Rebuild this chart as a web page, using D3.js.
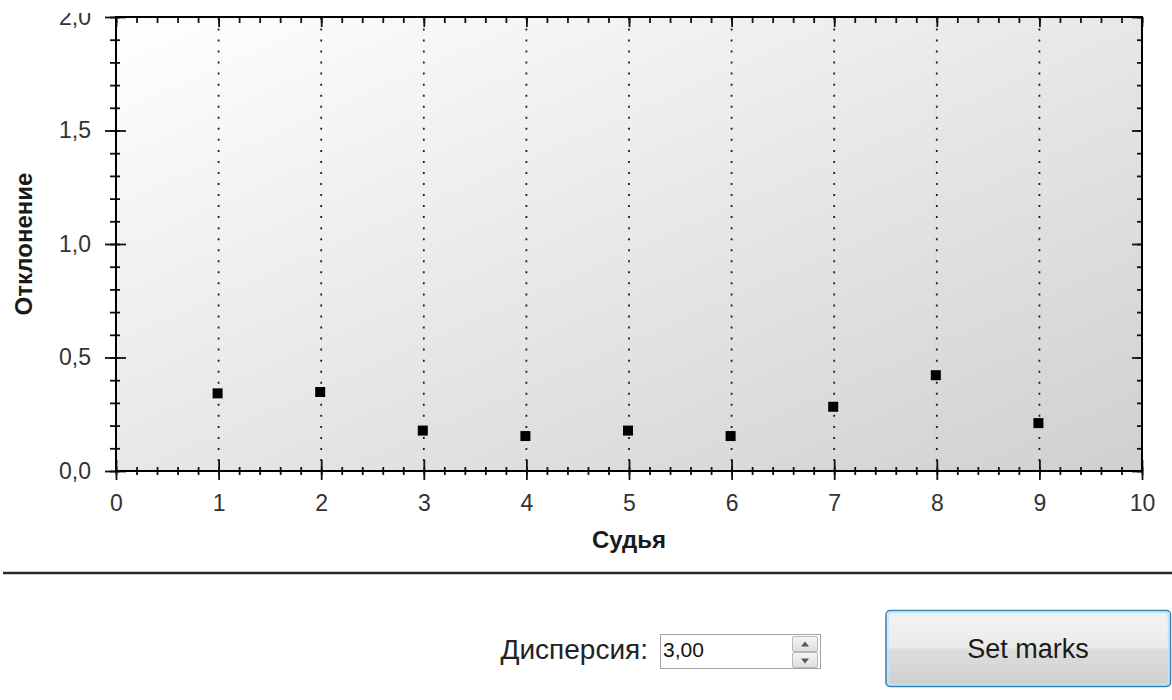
<!DOCTYPE html>
<html>
<head>
<meta charset="utf-8">
<script src="https://cdn.jsdelivr.net/npm/d3@7"></script>
<style>
  body { margin: 0; background: #fff; }
  svg { display: block; font-family: "Liberation Sans", Arial, sans-serif; }
</style>
</head>
<body>
<svg id="chart" width="1172" height="700"></svg>
<script>
// ---- data ----
const judges = [1, 2, 3, 4, 5, 6, 7, 8, 9];
const deviation = [0.342, 0.348, 0.178, 0.154, 0.178, 0.154, 0.283, 0.422, 0.211];
const xTickValues = [0, 1, 2, 3, 4, 5, 6, 7, 8, 9, 10];
const yTickValues = [0, 0.5, 1.0, 1.5, 2.0];
const xTitle = "Судья";
const yTitle = "Отклонение";
const dispersionLabel = "Дисперсия:";
const dispersionValue = "3,00";
const buttonLabel = "Set marks";

// ---- layout ----
const svg = d3.select("#chart");
const L = 116, R = 1142, T = 17, B = 471;
const x = d3.scaleLinear().domain([0, 10]).range([L, R]);
const y = d3.scaleLinear().domain([0, 2]).range([B, T]);
const fmt = d => d3.format(".1f")(d).replace(".", ",");

const defs = svg.append("defs");
const bg = defs.append("linearGradient").attr("id", "plotBg")
  .attr("x1", 0).attr("y1", 0).attr("x2", 1).attr("y2", 1);
bg.append("stop").attr("offset", "0%").attr("stop-color", "#ffffff");
bg.append("stop").attr("offset", "100%").attr("stop-color", "#d0d0d0");

const clip = defs.append("clipPath").attr("id", "labelClip");
clip.append("rect").attr("x", -200).attr("y", 13).attr("width", 400).attr("height", 700);

// plot background
svg.append("rect").attr("x", L).attr("y", T).attr("width", R - L).attr("height", B - T)
  .attr("fill", "url(#plotBg)");

// dotted vertical gridlines
svg.append("g").selectAll("line").data(judges).join("line")
  .attr("x1", d => x(d)).attr("x2", d => x(d))
  .attr("y1", y(0)).attr("y2", y(2))
  .attr("stroke", "#1e1e1e").attr("stroke-width", 1.8)
  .attr("stroke-dasharray", "2 9.04").attr("stroke-dashoffset", 1.04);

// minor ticks
const yMinor = d3.range(0, 2.0001, 0.1).map(v => +v.toFixed(1));
const xMinor = d3.range(0, 10.0001, 0.2).map(v => +v.toFixed(1));

function styleTicks(g) {
  g.select(".domain").remove();
  g.selectAll(".tick line").attr("stroke", "#111").attr("stroke-width", 1.8);
}

// left axis
const gLeftMinor = svg.append("g").attr("transform", `translate(${L},0)`)
  .call(d3.axisLeft(y).tickValues(yMinor).tickSize(6).tickFormat(""));
styleTicks(gLeftMinor);
gLeftMinor.selectAll(".tick line").attr("x1", 4);

const gLeft = svg.append("g").attr("transform", `translate(${L},0)`)
  .attr("clip-path", "url(#labelClip)")
  .call(d3.axisLeft(y).tickValues(yTickValues).tickSize(11).tickPadding(14).tickFormat(fmt));
styleTicks(gLeft);
gLeft.selectAll(".tick line").attr("x1", 10);
gLeft.selectAll(".tick text").attr("font-size", 23).attr("fill", "#333")
  .attr("font-family", "'Liberation Sans', Arial, sans-serif");

// right axis
const gRightMinor = svg.append("g").attr("transform", `translate(${R},0)`)
  .call(d3.axisRight(y).tickValues(yMinor).tickSize(-5).tickFormat(""));
styleTicks(gRightMinor);
const gRight = svg.append("g").attr("transform", `translate(${R},0)`)
  .call(d3.axisRight(y).tickValues(yTickValues).tickSize(-10).tickFormat(""));
styleTicks(gRight);

// bottom axis
const gBotMinor = svg.append("g").attr("transform", `translate(0,${B})`)
  .call(d3.axisBottom(x).tickValues(xMinor).tickSize(4).tickFormat(""));
styleTicks(gBotMinor);
gBotMinor.selectAll(".tick line").attr("y1", -4);

const gBot = svg.append("g").attr("transform", `translate(0,${B})`)
  .call(d3.axisBottom(x).tickValues(xTickValues).tickSize(9).tickPadding(15).tickFormat(d3.format("d")));
styleTicks(gBot);
gBot.selectAll(".tick line").attr("y1", -11);
gBot.selectAll(".tick text").attr("font-size", 23).attr("fill", "#333")
  .attr("font-family", "'Liberation Sans', Arial, sans-serif");

// top axis
const gTopMinor = svg.append("g").attr("transform", `translate(0,${T})`)
  .call(d3.axisTop(x).tickValues(xMinor).tickSize(-6).tickFormat(""));
styleTicks(gTopMinor);
const gTop = svg.append("g").attr("transform", `translate(0,${T})`)
  .call(d3.axisTop(x).tickValues(xTickValues).tickSize(-10).tickFormat(""));
styleTicks(gTop);

// frame
svg.append("rect").attr("x", L).attr("y", T).attr("width", R - L).attr("height", B - T)
  .attr("fill", "none").attr("stroke", "#000").attr("stroke-width", 2);

// points
svg.append("g").selectAll("rect").data(judges).join("rect")
  .attr("x", (d, i) => x(d) - 6).attr("y", (d, i) => y(deviation[i]) - 5)
  .attr("width", 10).attr("height", 10).attr("fill", "#000");

// titles
svg.append("text").attr("x", (L + R) / 2).attr("y", 548)
  .attr("text-anchor", "middle").attr("font-weight", "bold").attr("font-size", 24)
  .attr("fill", "#1a1a1a").text(xTitle);
svg.append("text").attr("transform", "translate(32,244) rotate(-90)")
  .attr("text-anchor", "middle").attr("font-weight", "bold").attr("font-size", 24)
  .attr("fill", "#1a1a1a").text(yTitle);

// separator
svg.append("line").attr("x1", 3).attr("x2", 1172).attr("y1", 573).attr("y2", 573)
  .attr("stroke", "#2a2a2a").attr("stroke-width", 2.5);

// control: label
svg.append("text").attr("x", 648).attr("y", 659).attr("text-anchor", "end")
  .attr("font-size", 28).attr("fill", "#222").text(dispersionLabel);

// numeric input
svg.append("rect").attr("x", 660.5).attr("y", 634.5).attr("width", 160).attr("height", 34)
  .attr("fill", "#fff").attr("stroke", "#a3a3a3").attr("stroke-width", 1);
svg.append("text").attr("x", 663).attr("y", 657).attr("font-size", 21)
  .attr("fill", "#111").text(dispersionValue);
const spin = defs.append("linearGradient").attr("id", "spinBg").attr("x1", 0).attr("y1", 0).attr("x2", 0).attr("y2", 1);
spin.append("stop").attr("offset", "0%").attr("stop-color", "#f6f6f6");
spin.append("stop").attr("offset", "100%").attr("stop-color", "#dedede");
[[636, 15], [652, 15]].forEach(([yy, hh], k) => {
  svg.append("rect").attr("x", 792.5).attr("y", yy + 0.5).attr("width", 25).attr("height", hh)
    .attr("rx", 1.5).attr("fill", "url(#spinBg)").attr("stroke", "#b8b8b8");
  const cx = 805, cy = yy + hh / 2 + 1;
  const pts = k === 0
    ? [[cx - 4, cy + 2], [cx + 4, cy + 2], [cx, cy - 3]]
    : [[cx - 4, cy - 2], [cx + 4, cy - 2], [cx, cy + 3]];
  svg.append("polygon").attr("points", pts.map(p => p.join(",")).join(" ")).attr("fill", "#4a5a6a");
});

// button
const btn = defs.append("linearGradient").attr("id", "btnBg").attr("x1", 0).attr("y1", 0).attr("x2", 0).attr("y2", 1);
btn.append("stop").attr("offset", "0%").attr("stop-color", "#f3f3f3");
btn.append("stop").attr("offset", "48%").attr("stop-color", "#ebebeb");
btn.append("stop").attr("offset", "52%").attr("stop-color", "#dddddd");
btn.append("stop").attr("offset", "100%").attr("stop-color", "#cfcfcf");
svg.append("rect").attr("x", 886).attr("y", 610.5).attr("width", 284.5).attr("height", 76)
  .attr("rx", 4).attr("fill", "url(#btnBg)").attr("stroke", "#3c7fb1").attr("stroke-width", 1.5);
svg.append("rect").attr("x", 888).attr("y", 612.5).attr("width", 280.5).attr("height", 72)
  .attr("rx", 3).attr("fill", "none").attr("stroke", "#bfe6f7").attr("stroke-width", 1.5);
svg.append("text").attr("x", 1028).attr("y", 658).attr("text-anchor", "middle")
  .attr("font-size", 27).attr("fill", "#1a1a1a").text(buttonLabel);
</script>
</body>
</html>
